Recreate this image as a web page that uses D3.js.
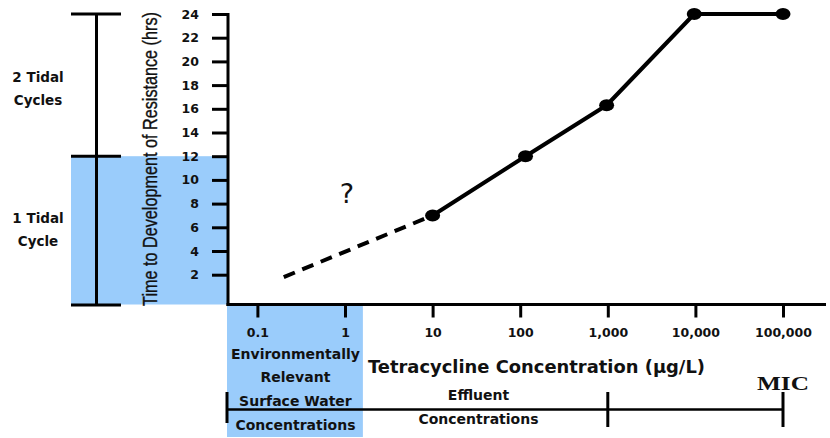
<!DOCTYPE html>
<html>
<head>
<meta charset="utf-8">
<script src="https://cdn.jsdelivr.net/npm/d3@7"></script>
<style>
  html, body { margin: 0; padding: 0; background: #fff; }
  svg { display: block; }
  .tick text { font-family: "DejaVu Sans", sans-serif; font-weight: bold; fill: #111; }
</style>
</head>
<body>
<div id="chart"></div>
<script>
// ---------- data ----------
const concentrations = [10, 115, 970, 9700, 100000];          // µg/L
const hoursToResistance = [7, 12, 16.3, 24, 24];               // hrs
const extrapolatedConc = [0.2, 10];                            // dashed guess
const extrapolatedHours = [1.8, 7];
const yTickValues = [2, 4, 6, 8, 10, 12, 14, 16, 18, 20, 22, 24];
const xTickValues = [0.1, 1, 10, 100, 1000, 10000, 100000];
const xTickLabels = ["0.1", "1", "10", "100", "1,000", "10,000", "100,000"];
const tidalMarks = [24, 12];                                   // hrs: 2 cycles, 1 cycle
const envRelevantMax = 1.6;                                    // µg/L upper bound of env. relevant band
const effluentMax = 1000;
const micConc = 100000;

// ---------- setup ----------
const W = 830, H = 438;
const svg = d3.select("#chart").append("svg").attr("width", W).attr("height", H);
svg.append("rect").attr("width", W).attr("height", H).attr("fill", "#fff");

const axisX0 = 228;     // x of the vertical axis
const axisY0 = 304.5;   // y of the horizontal axis

const x = d3.scaleLog().domain([0.1, 100000]).range([257.4, 783]);
const y = d3.scaleLinear().domain([0, 24]).range([298.4, 14]);

const blue = "#9ACCFB";
const font = "'DejaVu Sans', sans-serif";

// ---------- blue bands ----------
svg.append("rect")
  .attr("x", 71).attr("y", y(tidalMarks[1]))
  .attr("width", axisX0 - 71).attr("height", axisY0 - y(tidalMarks[1]))
  .attr("fill", blue);
svg.append("rect")
  .attr("x", axisX0 - 1).attr("y", axisY0)
  .attr("width", x(envRelevantMax) - axisX0 + 1).attr("height", 437 - axisY0)
  .attr("fill", blue);

// ---------- left tidal bracket ----------
const bx = 96.5;
svg.append("line").attr("x1", bx).attr("x2", bx)
  .attr("y1", y(tidalMarks[0])).attr("y2", axisY0 + 0.5)
  .attr("stroke", "#000").attr("stroke-width", 3);
[y(tidalMarks[0]), y(tidalMarks[1]), axisY0 + 0.5].forEach(v => {
  svg.append("line").attr("x1", 71).attr("x2", 121).attr("y1", v).attr("y2", v)
    .attr("stroke", "#000").attr("stroke-width", 3);
});
const leftLabels = [["2 Tidal", 82], ["Cycles", 104.5], ["1 Tidal", 223], ["Cycle", 246]];
leftLabels.forEach(([t, yy]) => {
  svg.append("text").attr("x", 38).attr("y", yy).attr("text-anchor", "middle")
    .attr("font-family", font).attr("font-weight", "bold").attr("font-size", 13.5)
    .attr("fill", "#111").text(t);
});

// ---------- y axis ----------
const yAxis = d3.axisLeft(y).tickValues(yTickValues).tickSize(16).tickPadding(13).tickSizeOuter(0);
const gy = svg.append("g").attr("transform", `translate(${axisX0},0)`).call(yAxis);
gy.select(".domain").remove();
gy.selectAll(".tick line").attr("stroke", "#000").attr("stroke-width", 3);
gy.selectAll(".tick text").attr("font-size", 12.5);
svg.append("line").attr("x1", axisX0).attr("x2", axisX0)
  .attr("y1", y(24) - 1).attr("y2", axisY0 + 1.5)
  .attr("stroke", "#000").attr("stroke-width", 3);

const yTitle = svg.append("text")
  .attr("text-anchor", "middle")
  .attr("font-family", "'Liberation Sans', Arial, sans-serif")
  .attr("font-size", 20.5)
  .attr("fill", "#111").attr("stroke", "#111").attr("stroke-width", 0.35)
  .text("Time to Development of Resistance (hrs)");
const natLen = yTitle.node().getComputedTextLength() || 370;
const sx = 294 / natLen;
yTitle.attr("transform", `translate(157,159) rotate(-90) scale(${sx},1)`);

// ---------- x axis ----------
const xAxis = d3.axisBottom(x).tickValues(xTickValues)
  .tickFormat((d, i) => xTickLabels[i]).tickSize(13).tickPadding(11).tickSizeOuter(0);
const gx = svg.append("g").attr("transform", `translate(0,${axisY0})`).call(xAxis);
gx.select(".domain").remove();
gx.selectAll(".tick line").attr("stroke", "#000").attr("stroke-width", 3);
gx.selectAll(".tick text").attr("font-size", 12.5);
svg.append("line").attr("x1", axisX0 - 1.5).attr("x2", 826)
  .attr("y1", axisY0).attr("y2", axisY0)
  .attr("stroke", "#000").attr("stroke-width", 3);

svg.append("text").attr("x", 368).attr("y", 373)
  .attr("font-family", font).attr("font-weight", "bold").attr("font-size", 17.5)
  .attr("textLength", 337).attr("lengthAdjust", "spacingAndGlyphs")
  .attr("fill", "#111").text("Tetracycline Concentration (µg/L)");

// env relevant labels
const envCx = (axisX0 + x(envRelevantMax)) / 2;
[["Environmentally", 358.5], ["Relevant", 382], ["Surface Water", 405.5], ["Concentrations", 430]]
  .forEach(([t, yy]) => {
    svg.append("text").attr("x", envCx).attr("y", yy).attr("text-anchor", "middle")
      .attr("font-family", font).attr("font-weight", "bold").attr("font-size", 14)
      .attr("fill", "#111").text(t);
  });

// ---------- bottom bracket ----------
const by = 409.5;
svg.append("line").attr("x1", axisX0 - 1).attr("x2", x(micConc)).attr("y1", by).attr("y2", by)
  .attr("stroke", "#000").attr("stroke-width", 2.5);
svg.append("line").attr("x1", axisX0 - 1).attr("x2", axisX0 - 1).attr("y1", 392).attr("y2", 423)
  .attr("stroke", "#000").attr("stroke-width", 3);
[effluentMax, micConc].forEach(c => {
  svg.append("line").attr("x1", x(c)).attr("x2", x(c)).attr("y1", 392).attr("y2", 427)
    .attr("stroke", "#000").attr("stroke-width", 3);
});
const effCx = 478.5;
[["Effluent", 400], ["Concentrations", 423.5]].forEach(([t, yy]) => {
  svg.append("text").attr("x", effCx).attr("y", yy).attr("text-anchor", "middle")
    .attr("font-family", font).attr("font-weight", "bold").attr("font-size", 14)
    .attr("fill", "#111").text(t);
});
svg.append("text").attr("x", x(micConc)).attr("y", 390).attr("text-anchor", "middle")
  .attr("font-family", "'Liberation Serif', 'DejaVu Serif', serif").attr("font-weight", "bold")
  .attr("font-size", 19).attr("textLength", 52).attr("lengthAdjust", "spacingAndGlyphs")
  .attr("fill", "#111").text("MIC");

// ---------- data line ----------
const line = d3.line().x(d => x(d[0])).y(d => y(d[1]));
const extrap = extrapolatedConc.map((c, i) => [c, extrapolatedHours[i]]);
svg.append("path").attr("d", line(extrap)).attr("fill", "none")
  .attr("stroke", "#000").attr("stroke-width", 4).attr("stroke-dasharray", "12,8");
const pts = concentrations.map((c, i) => [c, hoursToResistance[i]]);
svg.append("path").attr("d", line(pts)).attr("fill", "none")
  .attr("stroke", "#000").attr("stroke-width", 4).attr("stroke-linejoin", "round");
svg.selectAll("ellipse.pt").data(pts).enter().append("ellipse").attr("class", "pt")
  .attr("cx", d => x(d[0])).attr("cy", d => y(d[1]))
  .attr("rx", 7.5).attr("ry", 6).attr("fill", "#000");

svg.append("text").attr("x", 347).attr("y", 203).attr("text-anchor", "middle")
  .attr("font-family", font).attr("font-size", 27).attr("fill", "#111").text("?");
</script>
</body>
</html>
